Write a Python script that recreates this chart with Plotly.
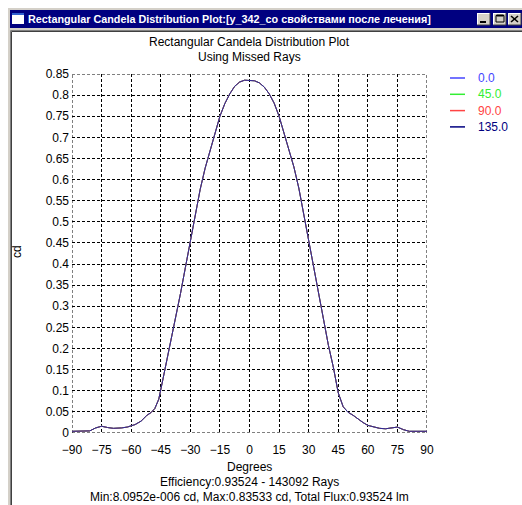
import plotly.graph_objects as go

# Candela distribution (cd) versus angle (degrees)
angles = [-90, -85, -81, -78, -75, -72, -69, -65, -62, -58, -55, -52, -50, -48,
          -46, -44, -42, -40, -37.5, -35, -32.5, -30, -27.5, -25, -22.5, -20,
          -17.5, -15, -12.5, -10, -7.5, -5, -2.5, 0, 2.5, 5, 7.5, 10, 12.5, 15,
          17.5, 20, 22.5, 25, 27.5, 30, 32.5, 35, 37.5, 40, 42.5, 45, 47.5, 50,
          52.5, 55, 57.5, 60, 63, 66, 69, 72, 75, 78, 81, 85, 90]
candela = [0.004, 0.004, 0.005, 0.012, 0.016, 0.013, 0.011, 0.012, 0.014, 0.020,
           0.028, 0.042, 0.048, 0.058, 0.080, 0.125, 0.170, 0.212, 0.270, 0.330,
           0.392, 0.455, 0.518, 0.577, 0.627, 0.670, 0.712, 0.750, 0.780, 0.803,
           0.821, 0.831, 0.8353, 0.835, 0.834, 0.829, 0.819, 0.803, 0.781, 0.750,
           0.712, 0.672, 0.630, 0.580, 0.518, 0.455, 0.390, 0.326, 0.266, 0.208,
           0.156, 0.095, 0.062, 0.049, 0.042, 0.033, 0.025, 0.018, 0.014, 0.011,
           0.010, 0.012, 0.014, 0.008, 0.004, 0.004, 0.004]

planes = ["0.0", "45.0", "90.0", "135.0"]
plane_colors = ["#4444ff", "#33ee33", "#ff4444", "#000080"]
curve_color = "#2a2a98"

x_ticks = [-90, -75, -60, -45, -30, -15, 0, 15, 30, 45, 60, 75, 90]
y_ticks = [0, 0.05, 0.1, 0.15, 0.2, 0.25, 0.3, 0.35, 0.4, 0.45, 0.5, 0.55, 0.6,
           0.65, 0.7, 0.75, 0.8, 0.85]
y_tick_text = ["0", "0.05", "0.1", "0.15", "0.2", "0.25", "0.3", "0.35", "0.4",
               "0.45", "0.5", "0.55", "0.6", "0.65", "0.7", "0.75", "0.8", "0.85"]

window_title = "Rectangular Candela Distribution Plot:[y_342_co свойствами после лечения]"
plot_title = ["Rectangular Candela Distribution Plot", "Using Missed Rays"]
footer = ["Degrees", "Efficiency:0.93524 - 143092 Rays",
          "Min:8.0952e-006 cd, Max:0.83533 cd, Total Flux:0.93524 lm"]

FW, FH = 522, 505
L, R, T, B = 72, 95, 74, 72
PW, PH = FW - L - R, FH - T - B
FONT = "Liberation Sans, Arial, sans-serif"
GRID_DASH = "3px,2px"


def fx(px):
    return (px - L) / PW


def fy(py):
    return (FH - B - py) / PH


fig = go.Figure()
# the four planes coincide; the last one drawn ends up on top
for i, name in enumerate(planes):
    color = curve_color if i == len(planes) - 1 else plane_colors[i]
    fig.add_trace(go.Scatter(x=angles, y=candela, mode="lines", name=name,
                             line=dict(color=color, width=1),
                             showlegend=False, hoverinfo="skip"))

shapes = []
annotations = []


def rect(x0, y0, x1, y1, fill, line=None, lw=0):
    shapes.append(dict(type="rect", xref="paper", yref="paper",
                       x0=fx(x0), x1=fx(x1), y0=fy(y1), y1=fy(y0),
                       fillcolor=fill, line=dict(color=line or fill, width=lw),
                       layer="below"))


def seg(x0, y0, x1, y1, color, w=1, layer="above"):
    shapes.append(dict(type="line", xref="paper", yref="paper",
                       x0=fx(x0), x1=fx(x1), y0=fy(y0), y1=fy(y1),
                       line=dict(color=color, width=w), layer=layer))


def text(px, py, s, size=12, color="#000000", anchor="center", bold=False):
    annotations.append(dict(xref="paper", yref="paper", x=fx(px), y=fy(py),
                            text=f"<b>{s}</b>" if bold else s, showarrow=False,
                            xanchor=anchor, yanchor="middle",
                            font=dict(family=FONT, size=size, color=color)))


# window frame
rect(7, 7, 530, 510, "#d4d0c8")
seg(7, 7.5, 530, 7.5, "#ffffff", 1, "below")
seg(7.5, 7, 7.5, 510, "#ffffff", 1, "below")
rect(10, 10, 530, 28, "#000080")
rect(10.5, 30.5, 530, 510, "#ffffff", "#808080", 1)
seg(11.5, 31.5, 530, 31.5, "#404040", 1, "below")
seg(11.5, 31.5, 11.5, 510, "#404040", 1, "below")

# window icon
rect(12, 13, 24, 24, "#ffffff", "#ffffff", 0)
rect(12, 13, 24, 15, "#3060d0")

# caption buttons
for bx in (477, 493, 508):
    rect(bx, 13, bx + 13, 25, "#d4d0c8")
    seg(bx, 13.5, bx + 13, 13.5, "#ffffff")
    seg(bx + 0.5, 13, bx + 0.5, 25, "#ffffff")
    seg(bx, 25, bx + 13, 25, "#404040")
    seg(bx + 13, 13, bx + 13, 25, "#404040")
seg(480, 22, 486, 22, "#000000", 2)
shapes.append(dict(type="rect", xref="paper", yref="paper",
                   x0=fx(496), x1=fx(504), y0=fy(22), y1=fy(15.5),
                   line=dict(color="#000000", width=1), layer="above"))
seg(496.5, 15.5, 503.5, 15.5, "#000000", 2)
seg(511, 16, 518, 22, "#000000", 1.6)
seg(511, 22, 518, 16, "#000000", 1.6)

text(26, 19, window_title, size=10.8, color="#ffffff", anchor="left", bold=True)

# dashed border of the plotting area (grid lines at the axis limits)
for xv in (x_ticks[0], x_ticks[-1]):
    shapes.append(dict(type="line", xref="x", yref="y", x0=xv, x1=xv,
                       y0=y_ticks[0], y1=y_ticks[-1], layer="below",
                       line=dict(color="#000000", width=1, dash=GRID_DASH)))
for yv in (y_ticks[0], y_ticks[-1]):
    shapes.append(dict(type="line", xref="x", yref="y", x0=x_ticks[0],
                       x1=x_ticks[-1], y0=yv, y1=yv, layer="below",
                       line=dict(color="#000000", width=1, dash=GRID_DASH)))

# chart titles
text(249, 42, plot_title[0])
text(249, 57, plot_title[1])
text(249, 467, footer[0])
text(249, 482, footer[1])
text(249, 497, footer[2])

# y axis title
annotations.append(dict(xref="paper", yref="paper", x=fx(17), y=fy(252),
                        text="cd", showarrow=False, textangle=-90,
                        xanchor="center", yanchor="middle",
                        font=dict(family=FONT, size=12, color="#000000")))

# legend
for i, (name, color) in enumerate(zip(planes, plane_colors)):
    yy = 78 + i * 16.3
    seg(450, yy, 465, yy, color, 1.5)
    text(476, yy, name, size=12, color=color, anchor="left")

fig.update_layout(
    width=FW, height=FH,
    margin=dict(l=L, r=R, t=T, b=B, pad=0),
    paper_bgcolor="#ffffff", plot_bgcolor="#ffffff",
    shapes=shapes, annotations=annotations,
    showlegend=False,
    font=dict(family=FONT, size=12, color="#000000"),
)
fig.update_xaxes(range=[-90, 90], tickvals=x_ticks, ticks="", showline=False,
                 zeroline=False, showgrid=True, gridcolor="#000000",
                 gridwidth=1, griddash=GRID_DASH, ticklabelstandoff=8,
                 tickfont=dict(family=FONT, size=12, color="#000000"))
fig.update_yaxes(range=[0, 0.85], tickvals=y_ticks, ticktext=y_tick_text,
                 ticks="", showline=False, zeroline=False, showgrid=True,
                 gridcolor="#000000", gridwidth=1, griddash=GRID_DASH,
                 ticklabelstandoff=2,
                 tickfont=dict(family=FONT, size=12, color="#000000"))

fig.write_html("out.html")
